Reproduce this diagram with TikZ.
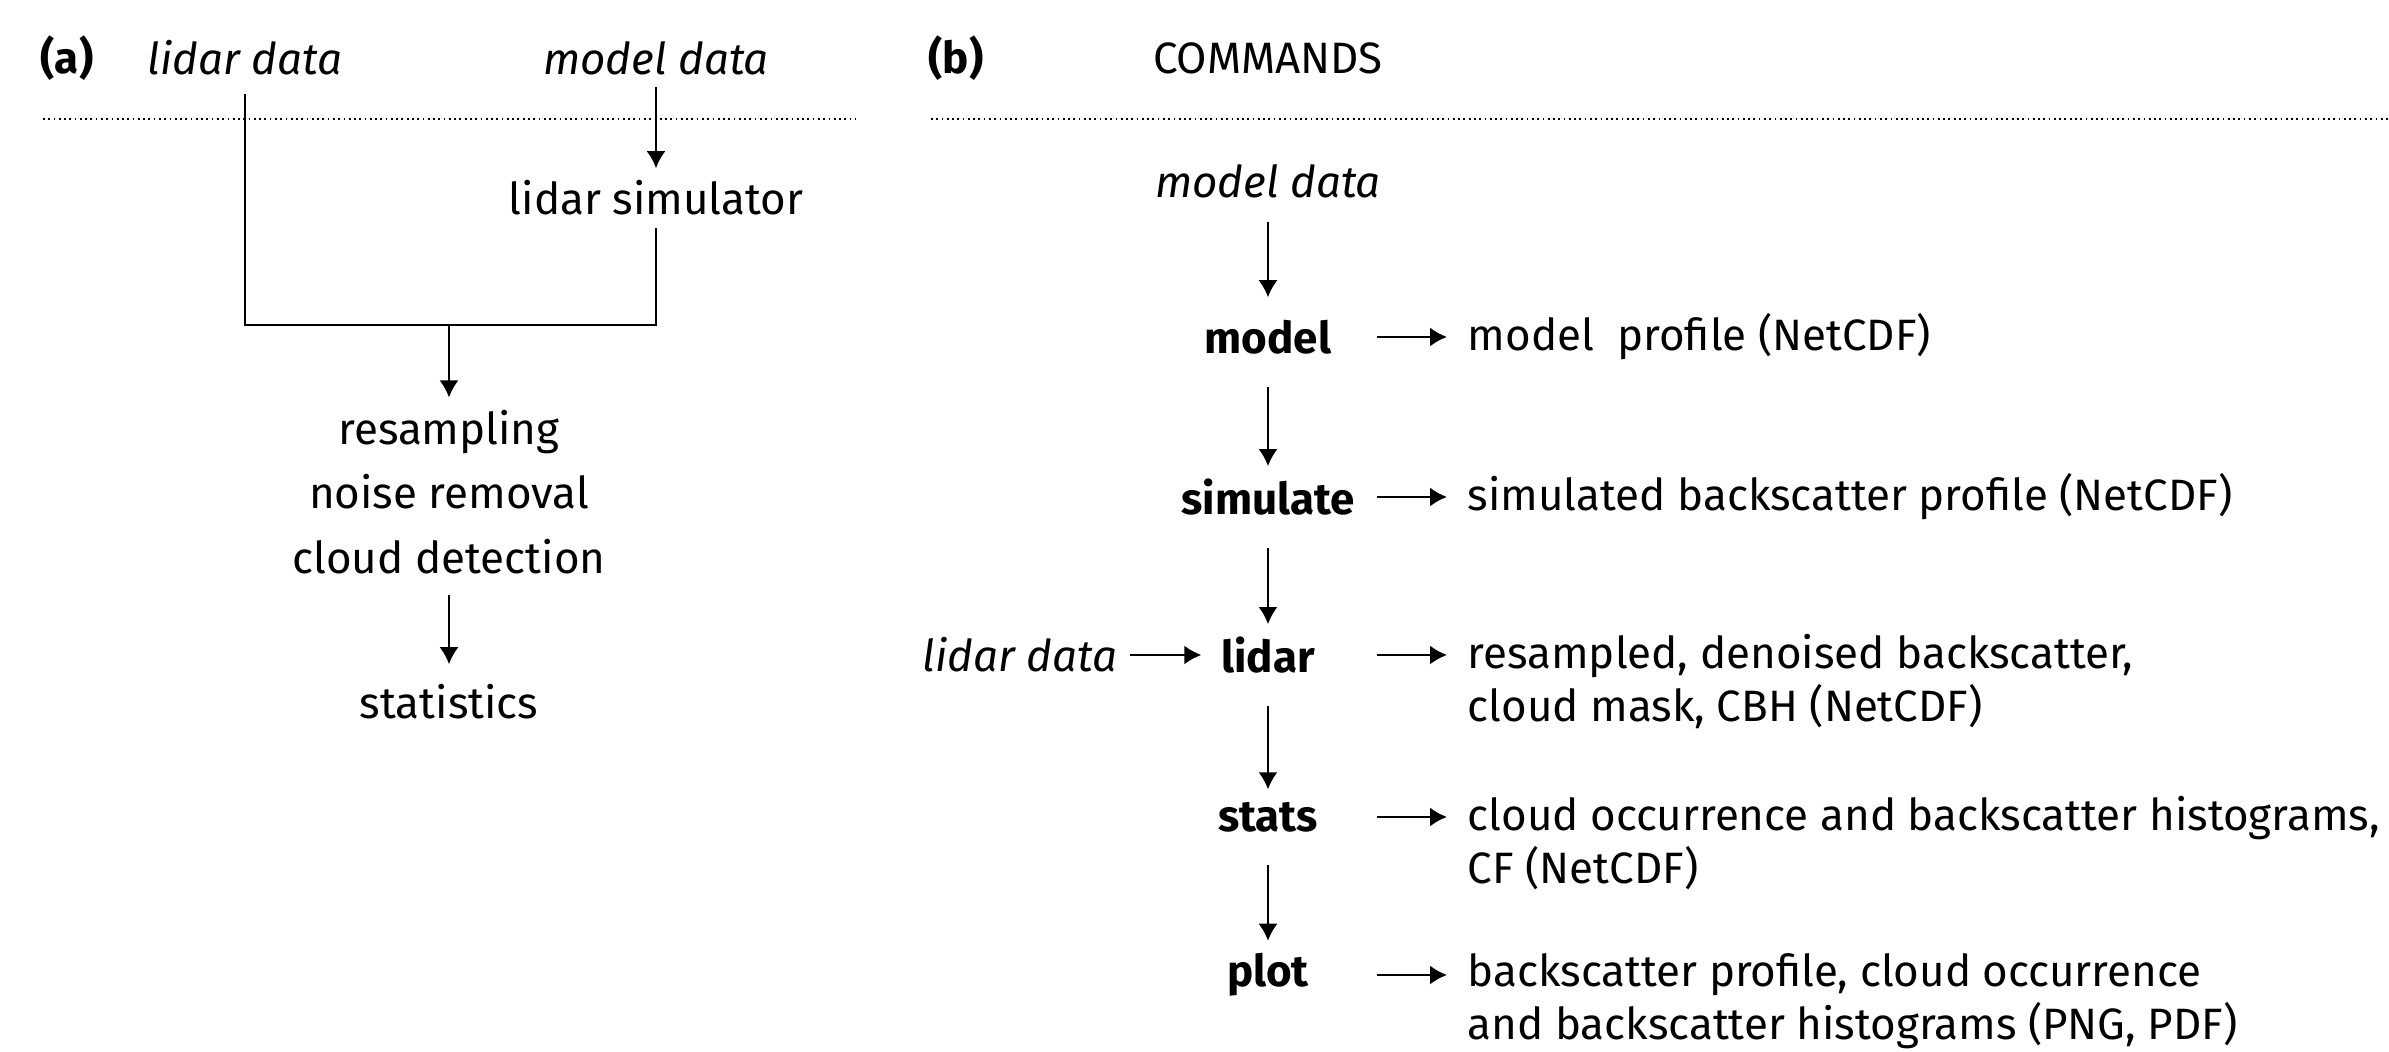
\documentclass[tikz,border=0pt]{standalone}
\usepackage{fontspec}
\setmainfont{Fira Sans}
\usetikzlibrary{arrows.meta}

\tikzset{
  txt/.style={font=\fontsize{12.5}{15}\selectfont},
  inp/.style={font=\fontsize{12.5}{15}\selectfont\itshape},
  cmd/.style={font=\fontsize{12.5}{15}\selectfont\bfseries, minimum width=2.16cm, inner xsep=0pt, inner ysep=0.12cm},
  outp/.style={txt, anchor=west, align=left, inner xsep=0.2cm},
  flow/.style={-{Latex[length=0.17cm,width=0.19cm]}, line width=0.6pt},
  down/.style={flow, shorten <=0.2cm},
  rule/.style={densely dotted, line width=0.5pt}
}

\begin{document}
\begin{tikzpicture}
\useasboundingbox (0,0) rectangle (23.89,-10.52);
% (a)
\node[font=\fontsize{12.5}{15}\selectfont\bfseries](lbla) at(0.67,-0.58) {(a)};
\node[inp](ldata) at(2.45,-0.58) {lidar data};
\node[inp](mdata) at(6.56,-0.58) {model data};
\draw[rule] (0.43,-1.19)--(8.56,-1.19);
\node[txt](sim) at(6.56,-1.98) {lidar simulator};
\coordinate (join) at(4.49,-3.25);
\node[txt,align=center](steps) at(4.49,-4.92) {resampling\\[0.12cm]noise removal\\[0.12cm]cloud detection};
\node[txt](stats) at(4.49,-7.02) {statistics};
\draw[flow] (mdata)--(sim);
\draw[line width=0.6pt,shorten <=0.06cm] (ldata.south) |- (join) -| (sim.south);
\draw[flow] (join)--(steps);
\draw[flow,shorten <=0.08cm,shorten >=0.08cm] (steps)--(stats);
% (b)
\node[font=\fontsize{12.5}{15}\selectfont\bfseries](lblb) at(9.56,-0.58) {(b)};
\node[txt](hdr) at(12.68,-0.58) {COMMANDS};
\draw[rule] (9.31,-1.19)--(23.89,-1.19);
\node[inp](mdata2) at(12.68,-1.81) {model data};
\node[cmd](model) at(12.68,-3.37) {model};
\node[cmd](simulate) at(12.68,-4.97) {simulate};
\node[cmd](lidar) at(12.68,-6.55) {lidar};
\node[cmd](stats2) at(12.68,-8.17) {stats};
\node[cmd](plot) at(12.68,-9.75) {plot};
\node[inp](ldata2) at(10.20,-6.55) {lidar data};
\node[outp](mout) at(14.47,-3.37) {model\ \ profile (NetCDF)};
\node[outp](sout) at(14.47,-4.97) {simulated backscatter profile (NetCDF)};
\node[outp](lout) at(14.47,-6.815) {resampled, denoised backscatter,\\cloud mask, CBH (NetCDF)};
\node[outp](tout) at(14.47,-8.43) {cloud occurrence and backscatter histograms,\\CF (NetCDF)};
\node[outp](pout) at(14.47,-10.015) {backscatter profile, cloud occurrence\\and backscatter histograms (PNG, PDF)};
\draw[flow,shorten <=0.12cm,shorten >=0.1cm] (mdata2)--(model);
\draw[down] (model)--(simulate);
\draw[down] (simulate)--(lidar);
\draw[down] (lidar)--(stats2);
\draw[down] (stats2)--(plot);
\draw[flow,shorten >=-0.42cm] (ldata2)--(lidar);
\draw[flow] (model)--(mout);
\draw[flow] (simulate)--(sout);
\draw[flow] (lidar)--(lidar-|lout.west);
\draw[flow] (stats2)--(stats2-|tout.west);
\draw[flow] (plot)--(plot-|pout.west);
\end{tikzpicture}
\end{document}
